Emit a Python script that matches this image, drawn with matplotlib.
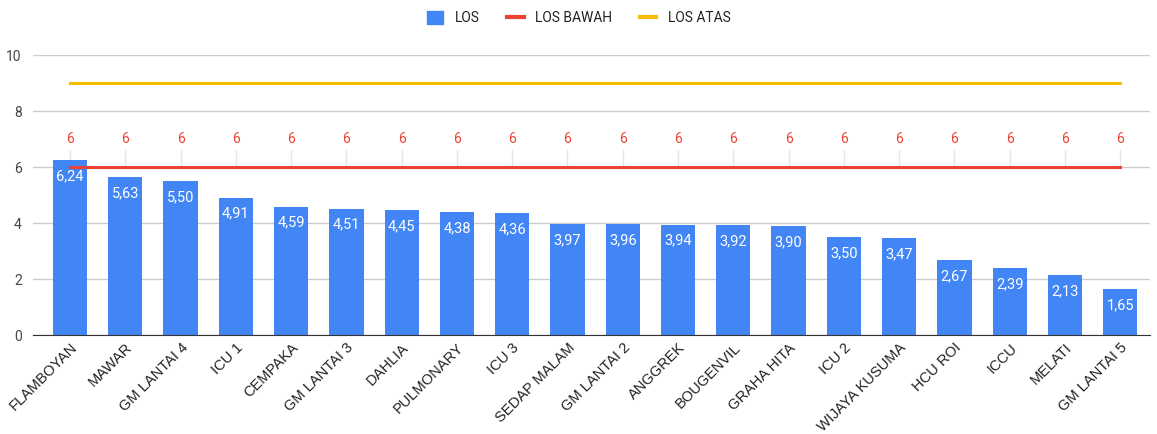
import matplotlib
matplotlib.use("Agg")
import matplotlib.pyplot as plt
from matplotlib.patches import Patch
from matplotlib.lines import Line2D
import numpy as np

rooms = ['FLAMBOYAN', 'MAWAR', 'GM LANTAI 4', 'ICU 1', 'CEMPAKA', 'GM LANTAI 3', 'DAHLIA',
         'PULMONARY', 'ICU 3', 'SEDAP MALAM', 'GM LANTAI 2', 'ANGGREK', 'BOUGENVIL',
         'GRAHA HITA', 'ICU 2', 'WIJAYA KUSUMA', 'HCU ROI', 'ICCU', 'MELATI', 'GM LANTAI 5']
los = [6.24, 5.63, 5.50, 4.91, 4.59, 4.51, 4.45, 4.38, 4.36, 3.97, 3.96, 3.94, 3.92,
       3.90, 3.50, 3.47, 2.67, 2.39, 2.13, 1.65]
los_bawah = [6] * len(rooms)
los_atas = [9] * len(rooms)

plt.rcParams['font.family'] = ['Roboto', 'DejaVu Sans']

fig = plt.figure(figsize=(11.57, 4.34), dpi=100)
ax = fig.add_axes([0.0285, 0.228, 0.9655, 0.645])

x = np.arange(len(rooms))
ax.bar(x, los, width=0.62, color='#4285f4', zorder=3, label='LOS')
ax.plot(x, los_bawah, color='#ea4335', lw=2.2, zorder=4, label='LOS BAWAH')
ax.plot(x, los_atas, color='#fbbc04', lw=2.2, zorder=4, label='LOS ATAS')

# value labels inside the bars
for xi, v in zip(x, los):
    ax.text(xi, v - 0.32, f"{v:.2f}".replace('.', ','), ha='center', va='top',
            color='white', fontsize=10.5, zorder=5)
# labels for the lower limit with small leader lines
for xi, v in zip(x, los_bawah):
    ax.plot([xi, xi], [v, v + 0.6], color='#e6e6e6', lw=1, zorder=1)
    ax.text(xi, v + 0.75, f"{v}", ha='center', va='bottom', color='#ea4335',
            fontsize=10, zorder=5)

ax.set_ylim(0, 10)
ax.set_xlim(-0.67, 19.54)
ax.set_yticks([0, 2, 4, 6, 8, 10])
ax.yaxis.grid(True, color='#cccccc', lw=1, zorder=0)
ax.tick_params(axis='y', length=0, labelsize=10, colors='#444444', pad=8)
ax.tick_params(axis='x', length=0, pad=4)
ax.set_xticks(x)
ax.set_xticklabels(rooms, rotation=45, ha='right', rotation_mode='anchor',
                   fontsize=10.5, color='#222222', family=['Liberation Sans', 'DejaVu Sans'])
for s in ['top', 'right', 'left']:
    ax.spines[s].set_visible(False)
ax.spines['bottom'].set_color('#333333')
ax.spines['bottom'].set_zorder(6)

h = [Patch(color='#4285f4'), Line2D([], [], color='#ea4335', lw=3),
     Line2D([], [], color='#fbbc04', lw=3)]
fig.legend(h, ['LOS', 'LOS BAWAH', 'LOS ATAS'], loc='center', bbox_to_anchor=(0.5, 0.958),
           ncol=3, frameon=False, fontsize=10, handlelength=1.2, handleheight=1.0,
           columnspacing=2.0, labelcolor='#222222')

fig.savefig('out.png', dpi=100)
